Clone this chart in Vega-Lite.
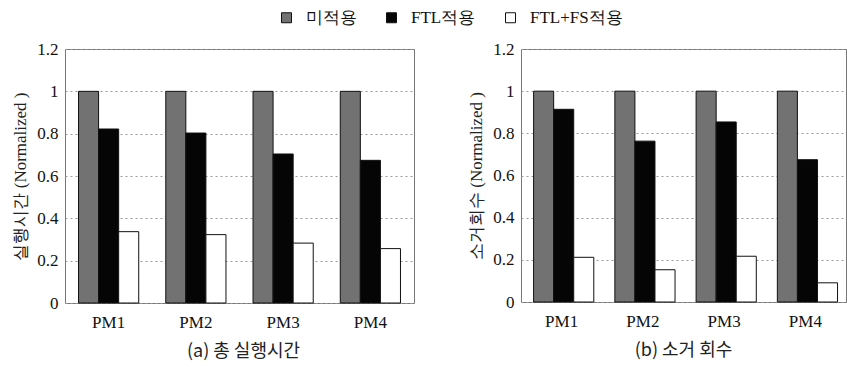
{
  "$schema": "https://vega.github.io/schema/vega-lite/v6.json",
  "background": "white",
  "padding": {"left": 11, "top": 9, "right": 0, "bottom": 0},
  "data": {"values": [
    {"panel": "a", "pm": "PM1", "series": "미적용", "value": 1.0},
    {"panel": "a", "pm": "PM1", "series": "FTL적용", "value": 0.822},
    {"panel": "a", "pm": "PM1", "series": "FTL+FS적용", "value": 0.337},
    {"panel": "a", "pm": "PM2", "series": "미적용", "value": 1.0},
    {"panel": "a", "pm": "PM2", "series": "FTL적용", "value": 0.803},
    {"panel": "a", "pm": "PM2", "series": "FTL+FS적용", "value": 0.323},
    {"panel": "a", "pm": "PM3", "series": "미적용", "value": 1.0},
    {"panel": "a", "pm": "PM3", "series": "FTL적용", "value": 0.704},
    {"panel": "a", "pm": "PM3", "series": "FTL+FS적용", "value": 0.283},
    {"panel": "a", "pm": "PM4", "series": "미적용", "value": 1.0},
    {"panel": "a", "pm": "PM4", "series": "FTL적용", "value": 0.674},
    {"panel": "a", "pm": "PM4", "series": "FTL+FS적용", "value": 0.257},
    {"panel": "b", "pm": "PM1", "series": "미적용", "value": 1.0},
    {"panel": "b", "pm": "PM1", "series": "FTL적용", "value": 0.914},
    {"panel": "b", "pm": "PM1", "series": "FTL+FS적용", "value": 0.212},
    {"panel": "b", "pm": "PM2", "series": "미적용", "value": 1.0},
    {"panel": "b", "pm": "PM2", "series": "FTL적용", "value": 0.763},
    {"panel": "b", "pm": "PM2", "series": "FTL+FS적용", "value": 0.153},
    {"panel": "b", "pm": "PM3", "series": "미적용", "value": 1.0},
    {"panel": "b", "pm": "PM3", "series": "FTL적용", "value": 0.854},
    {"panel": "b", "pm": "PM3", "series": "FTL+FS적용", "value": 0.217},
    {"panel": "b", "pm": "PM4", "series": "미적용", "value": 1.0},
    {"panel": "b", "pm": "PM4", "series": "FTL적용", "value": 0.675},
    {"panel": "b", "pm": "PM4", "series": "FTL+FS적용", "value": 0.091}
  ]},
  "bounds": "flush",
  "spacing": 107,
  "resolve": {"scale": {"color": "shared"}, "legend": {"color": "shared"}},
  "hconcat": [
    {
      "width": 349,
      "height": 254,
      "transform": [{"filter": "datum.panel === 'a'"}],
      "title": {"text": "(a) 총 실행시간", "orient": "bottom", "anchor": "middle", "dx": 4, "offset": 13, "fontSize": 18, "font": "Noto Sans CJK KR", "fontWeight": "normal", "color": "#222"},
      "mark": {"type": "bar", "stroke": "#111", "strokeWidth": 1},
      "encoding": {
        "x": {"field": "pm", "type": "nominal", "title": null, "scale": {"paddingInner": 0.31, "paddingOuter": 0.155}, "axis": {"labelAngle": 0}},
        "xOffset": {"field": "series", "type": "nominal", "sort": ["미적용", "FTL적용", "FTL+FS적용"], "scale": {"paddingInner": 0, "paddingOuter": 0}},
        "y": {"field": "value", "type": "quantitative", "title": "실행시간 (Normalized )", "scale": {"domain": [0, 1.2]}, "axis": {"values": [0, 0.2, 0.4, 0.6, 0.8, 1, 1.2], "format": "~g", "titleFont": "Liberation Serif"}},
        "color": {"field": "series", "type": "nominal", "sort": ["미적용", "FTL적용", "FTL+FS적용"], "scale": {"domain": ["미적용", "FTL적용", "FTL+FS적용"], "range": ["#727272", "#050505", "#ffffff"]}, "legend": {"title": null, "orient": "none", "legendX": 213, "legendY": -40}}
      }
    },
    {
      "width": 325,
      "height": 253,
      "transform": [{"filter": "datum.panel === 'b'"}],
      "title": {"text": "(b) 소거 회수", "orient": "bottom", "anchor": "middle", "offset": 13, "fontSize": 18, "font": "Noto Sans CJK KR", "fontWeight": "normal", "color": "#222"},
      "mark": {"type": "bar", "stroke": "#111", "strokeWidth": 1},
      "encoding": {
        "x": {"field": "pm", "type": "nominal", "title": null, "scale": {"paddingInner": 0.31, "paddingOuter": 0.155}, "axis": {"labelAngle": 0}},
        "xOffset": {"field": "series", "type": "nominal", "sort": ["미적용", "FTL적용", "FTL+FS적용"], "scale": {"paddingInner": 0, "paddingOuter": 0}},
        "y": {"field": "value", "type": "quantitative", "title": "소거회수 (Normalized )", "scale": {"domain": [0, 1.2]}, "axis": {"values": [0, 0.2, 0.4, 0.6, 0.8, 1, 1.2], "format": "~g", "titleFont": "Liberation Serif"}},
        "color": {"field": "series", "type": "nominal", "sort": ["미적용", "FTL적용", "FTL+FS적용"], "scale": {"domain": ["미적용", "FTL적용", "FTL+FS적용"], "range": ["#727272", "#050505", "#ffffff"]}, "legend": null}
      }
    }
  ],
  "config": {
    "view": {"stroke": "#777", "strokeWidth": 1},
    "axis": {
      "domain": false,
      "ticks": false,
      "labelFont": "Liberation Serif",
      "labelFontSize": 17,
      "labelColor": "#111",
      "titleFont": "Liberation Serif",
      "titleFontSize": 17,
      "titleFontWeight": "normal",
      "titleColor": "#222",
      "labelPadding": 7
    },
    "axisY": {"grid": true, "gridDash": [2, 3], "gridColor": "#999", "gridWidth": 1, "titlePadding": 7, "labelPadding": 7},
    "axisX": {"grid": false, "labelPadding": 11},
    "legend": {
      "direction": "horizontal",
      "labelFont": "Liberation Serif",
      "labelFontSize": 17,
      "labelColor": "#111",
      "symbolType": "square",
      "symbolSize": 100,
      "symbolStrokeColor": "#111",
      "symbolStrokeWidth": 1,
      "columnPadding": 26,
      "labelOffset": 11
    }
  }
}
